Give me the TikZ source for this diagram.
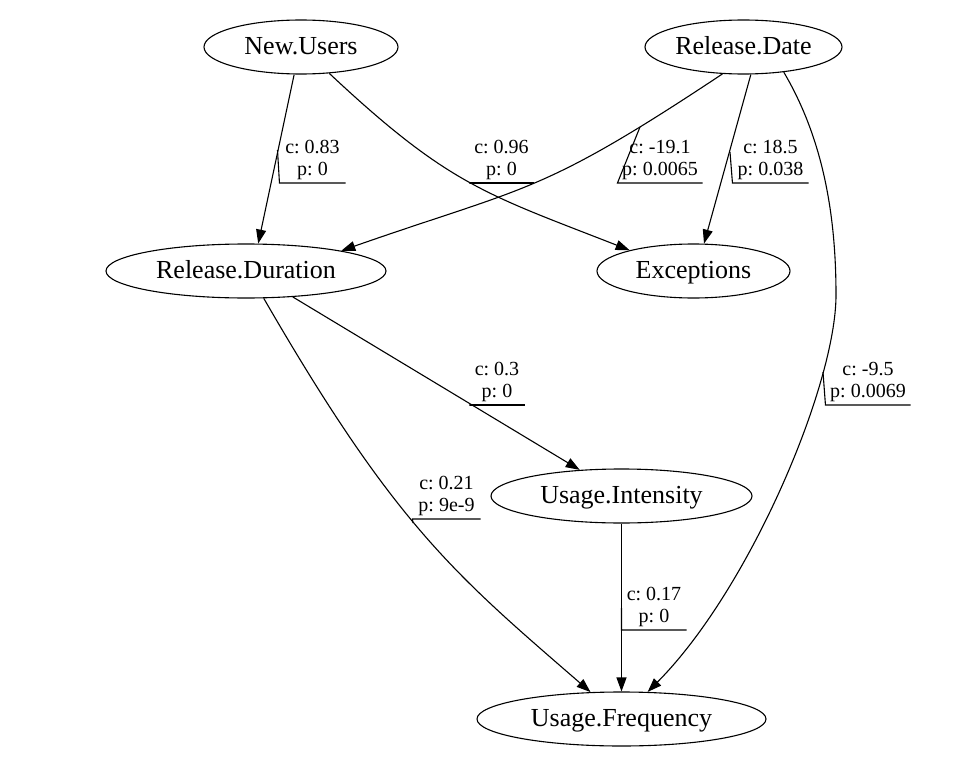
\documentclass[tikz,border=0pt]{standalone}
\usepackage{fontspec}
\setmainfont{Liberation Serif}
\usetikzlibrary{shapes.geometric,arrows.meta}
\frenchspacing
\begin{document}
\begin{tikzpicture}[x=1pt,y=-1pt,line width=1.1pt,
  vnode/.style={draw,ellipse,inner sep=0pt,minimum height=54pt,text height=21pt,text depth=5.5pt,font=\fontsize{26}{30}\selectfont},
  lbl/.style={font=\fontsize{20}{21.7}\selectfont,align=center,inner xsep=0pt,inner ysep=3pt,anchor=south},
  arr/.style={-{Triangle[length=14pt,width=10pt]}}]
\useasboundingbox (0,0) rectangle (956,768);
% nodes
\node[vnode,minimum width=194pt] (nu) at (301,47) {New.Users};
\node[vnode,minimum width=197pt] (rdate) at (743.5,47) {Release.Date};
\node[vnode,minimum width=280pt] (rd) at (246,271) {Release.Duration};
\node[vnode,minimum width=193pt] (ex) at (693.5,271) {Exceptions};
\node[vnode,minimum width=261pt] (ui) at (621.5,496) {Usage.Intensity};
\node[vnode,minimum width=289pt] (uf) at (621.5,719) {Usage.Frequency};
% edges
\draw[arr] (nu.-104.5) -- (rd.66);
\draw[arr] (nu.-43.8) .. controls (449,185.5) and (486,194) .. (ex.162.9);
\draw[arr] (rdate.-128.5) .. controls (539.6,195.4) and (528.7,185.2) .. (rd.12.6);
\draw[arr] (rdate.-75.5) -- (ex.69.7);
\draw[arr] (rdate.-32.7) .. controls (823.6,139.6) and (836,216.4) .. (836,295)
   .. controls (836,385) and (749.5,589.5) .. (uf.46);
\draw[arr] (rd.-29) -- (ui.148.7);
\draw[arr] (rd.-57) .. controls (394.6,524.8) and (454.3,574.1) .. (uf.139.5);
\draw[arr] (ui) -- (uf);
% labels
\coordinate (d1) at (277.5,150);
\node[lbl,minimum width=65pt] (l1) at (312.5,183) {c: 0.83\\p: 0};
\draw (d1) -- (l1.south west) -- (l1.south east);
\coordinate (d2) at (470,183);
\node[lbl,minimum width=63pt] (l2) at (501.5,183) {c: 0.96\\p: 0};
\draw (d2) -- (l2.south west) -- (l2.south east);
\coordinate (d3) at (640,127);
\node[lbl,minimum width=84pt] (l3) at (660,183) {c: -19.1\\p: 0.0065};
\draw (d3) -- (l3.south west) -- (l3.south east);
\coordinate (d4) at (730,152);
\node[lbl,minimum width=75pt] (l4) at (770.5,183) {c: 18.5\\p: 0.038};
\draw (d4) -- (l4.south west) -- (l4.south east);
\coordinate (d5) at (823,372);
\node[lbl,minimum width=84pt] (l5) at (868,405) {c: -9.5\\p: 0.0069};
\draw (d5) -- (l5.south west) -- (l5.south east);
\coordinate (d6) at (470,405);
\node[lbl,minimum width=54pt] (l6) at (497,405) {c: 0.3\\p: 0};
\draw (d6) -- (l6.south west) -- (l6.south east);
\coordinate (d7) at (413,523);
\node[lbl,minimum width=67pt] (l7) at (446.5,519) {c: 0.21\\p: 9e-9};
\draw (d7) -- (l7.south west) -- (l7.south east);
\coordinate (d8) at (621.5,608);
\node[lbl,minimum width=64pt] (l8) at (654,630) {c: 0.17\\p: 0};
\draw (d8) -- (l8.south west) -- (l8.south east);
\end{tikzpicture}
\end{document}
